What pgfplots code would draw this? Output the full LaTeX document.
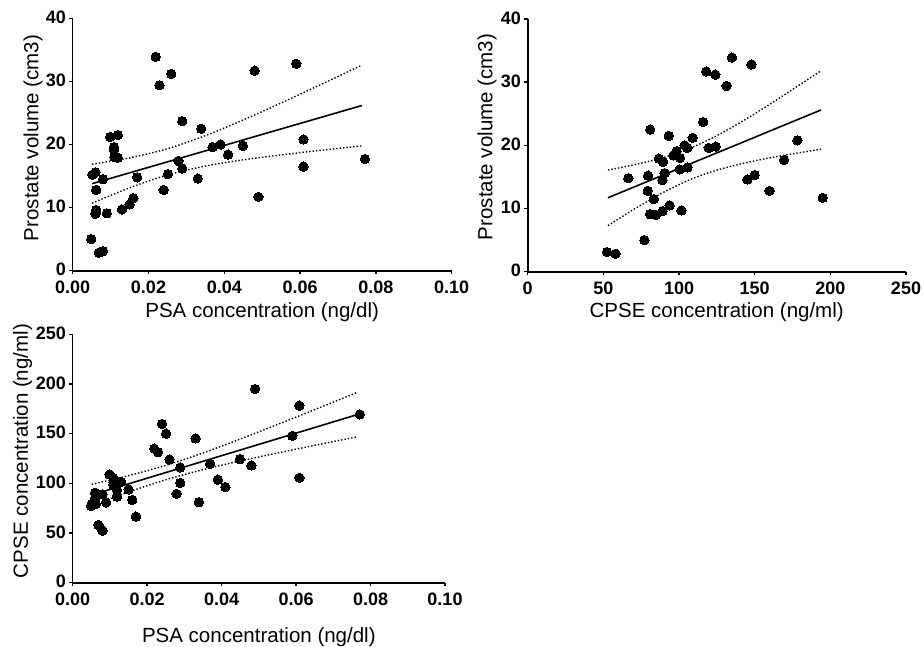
\documentclass[border=0pt]{standalone}
\usepackage{pgfplots}
\pgfplotsset{compat=1.18}
\usepackage{pgfplotstable}
\usepackage{fontspec}
\setmainfont{Liberation Sans}

% one row per patient: PSA (ng/dl), CPSE (ng/ml), prostate volume (cm3)
\pgfplotstableread{
psa cpse vol
0.0052 79.5 15.2
0.0060 90.5 15.6
0.0062 79.3 12.8
0.0062 89.2 9.6
0.0060 84.7 9.0
0.0049 77.1 5.0
0.0069 58.1 2.85
0.0080 52.4 3.1
0.0080 89.0 14.5
0.0090 80.8 9.1
0.0099 109.0 21.2
0.0119 93.2 21.5
0.0109 105.5 19.6
0.0109 98.4 19.1
0.0110 100.7 18.0
0.0119 86.7 17.9
0.0130 101.6 9.7
0.0150 93.8 10.5
0.0160 83.3 11.5
0.0170 66.5 14.8
0.0219 135.0 33.9
0.0229 131.4 29.4
0.0260 124.0 31.2
0.0240 159.8 12.8
0.0251 150.0 15.3
0.0289 116.0 23.7
0.0279 89.5 17.4
0.0289 100.4 16.2
0.0330 145.2 14.6
0.0339 81.0 22.5
0.0369 119.6 19.6
0.0390 103.7 20.0
0.0410 96.3 18.4
0.0449 124.3 19.8
0.0480 118.0 31.7
0.0490 195.0 11.7
0.0590 147.8 32.8
0.0609 178.2 20.8
0.0609 105.6 16.5
0.0771 169.4 17.7
}\patients

% regression line and 95% band, PSA vs volume
\pgfplotstableread{
x fit up lo
0.0051 13.79 16.89 10.69
0.015 15.51 17.88 13.14
0.025 17.25 19.33 15.17
0.035 18.99 21.40 16.58
0.045 20.73 23.89 17.57
0.055 22.47 26.59 18.35
0.065 24.21 29.37 19.05
0.0763 26.18 32.58 19.78
}\bandA

% CPSE vs volume
\pgfplotstableread{
x fit up lo
53 11.70 16.10 7.30
70 13.38 16.91 9.85
90 15.35 18.10 12.60
108 17.13 19.62 14.64
125 18.81 21.54 16.08
145 20.78 24.27 17.29
165 22.76 27.28 18.24
193.8 25.60 31.80 19.40
}\bandB

% PSA vs CPSE
\pgfplotstableread{
x fit up lo
0.0051 88.28 99.08 77.48
0.015 99.51 107.77 91.25
0.025 110.85 118.10 103.60
0.035 122.19 130.57 113.81
0.045 133.53 144.55 122.51
0.055 144.87 159.21 130.53
0.065 156.21 174.20 138.22
0.0765 169.25 191.62 146.88
}\bandC

\pgfplotsset{
  common/.style={
    scale only axis,
    axis x line*=bottom,
    axis y line*=left,
    axis line style={line width=1.6pt, black},
    every tick/.style={line width=1.4pt, black},
    tick align=outside,
    major tick length=3.5pt,
    tick label style={font=\fontsize{18}{20}\selectfont\bfseries},
    xticklabel style={inner sep=0pt, yshift=-7pt},
    yticklabel style={inner sep=0pt, xshift=-3pt, yshift=1pt},
    label style={font=\fontsize{20.5}{24}\selectfont},
    clip=false,
  },
  dots/.style={only marks, mark=*, mark size=4.7pt,
    mark options={fill=black, draw=black, line width=0pt}},
  fitline/.style={black, line width=1.6pt, no marks},
  band/.style={black, line width=1.4pt, dotted, no marks, smooth},
}

\begin{document}
\begin{tikzpicture}
\useasboundingbox (0,0) rectangle (924pt,-646pt);

% ---- top left: PSA vs prostate volume
\begin{axis}[common,
  at={(72.7pt,-270.7pt)}, anchor=south west,
  width=379pt, height=252.4pt,
  xmin=0, xmax=0.1, ymin=0, ymax=40,
  xtick={0,0.02,0.04,0.06,0.08,0.1},
  xticklabels={0.00,0.02,0.04,0.06,0.08,0.10},
  ytick={0,10,20,30,40},
  yticklabels={0,10,20,30,40},
  xlabel={PSA concentration (ng/dl)},
  ylabel={Prostate volume (cm3)},
  xlabel style={at={(axis description cs:0.5,-0.164)}, anchor=center},
  ylabel style={at={(axis description cs:-0.1047,0.526)}, anchor=center},
]
\addplot[band] table[x=x, y=up] {\bandA};
\addplot[band] table[x=x, y=lo] {\bandA};
\addplot[fitline] table[x=x, y=fit] {\bandA};
\addplot[dots] table[x=psa, y=vol] {\patients};
\end{axis}

% ---- top right: CPSE vs prostate volume
\begin{axis}[common,
  at={(527.7pt,-271.7pt)}, anchor=south west,
  width=378.3pt, height=252.7pt,
  xmin=0, xmax=250, ymin=0, ymax=40,
  xtick={0,50,100,150,200,250},
  xticklabels={0,50,100,150,200,250},
  ytick={0,10,20,30,40},
  yticklabels={0,10,20,30,40},
  xlabel={CPSE concentration (ng/ml)},
  ylabel={Prostate volume (cm3)},
  xlabel style={at={(axis description cs:0.4996,-0.16)}, anchor=center},
  ylabel style={at={(axis description cs:-0.1076,0.533)}, anchor=center},
]
\addplot[band] table[x=x, y=up] {\bandB};
\addplot[band] table[x=x, y=lo] {\bandB};
\addplot[fitline] table[x=x, y=fit] {\bandB};
\addplot[dots] table[x=cpse, y=vol] {\patients};
\end{axis}

% ---- bottom left: PSA vs CPSE
\begin{axis}[common,
  at={(72.7pt,-582.7pt)}, anchor=south west,
  width=372.3pt, height=248.4pt,
  xmin=0, xmax=0.1, ymin=0, ymax=250,
  xtick={0,0.02,0.04,0.06,0.08,0.1},
  xticklabels={0.00,0.02,0.04,0.06,0.08,0.10},
  ytick={0,50,100,150,200,250},
  yticklabels={0,50,100,150,200,250},
  xlabel={PSA concentration (ng/dl)},
  ylabel={CPSE concentration (ng/ml)},
  xlabel style={at={(axis description cs:0.5,-0.2174)}, anchor=center},
  ylabel style={at={(axis description cs:-0.1348,0.530)}, anchor=center},
]
\addplot[band] table[x=x, y=up] {\bandC};
\addplot[band] table[x=x, y=lo] {\bandC};
\addplot[fitline] table[x=x, y=fit] {\bandC};
\addplot[dots] table[x=psa, y=cpse] {\patients};
\end{axis}
\end{tikzpicture}
\end{document}
